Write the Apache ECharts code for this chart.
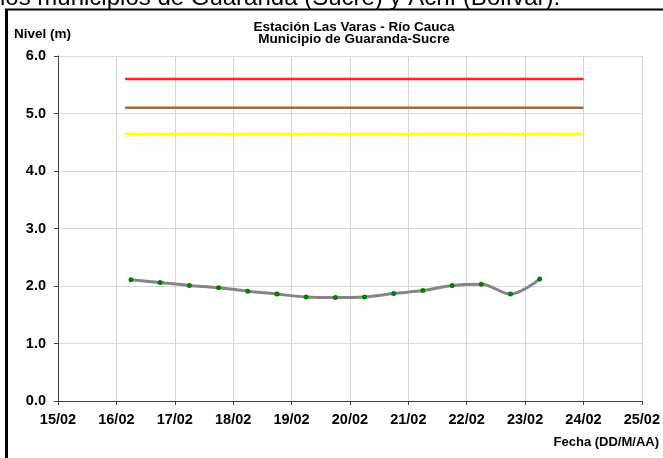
<!DOCTYPE html>
<html>
<head>
<meta charset="utf-8">
<script src="https://cdn.jsdelivr.net/npm/echarts@6/dist/echarts.min.js"></script>
<style>html,body{margin:0;padding:0;background:#fff}#c{width:663px;height:458px}</style>
</head>
<body>
<div id="c"></div>
<script>
// Data (x in days of February; 16.25 = 16/02 06:00)
const obsDays = [16.25, 16.75, 17.25, 17.75, 18.25, 18.75, 19.25, 19.75, 20.25, 20.75, 21.25, 21.75, 22.25, 22.75, 23.25];
const obsLevels = [2.11, 2.06, 2.01, 1.97, 1.91, 1.86, 1.81, 1.80, 1.81, 1.87, 1.92, 2.01, 2.03, 1.86, 2.12];
const thresholdDays = [16.15, 24.0];
const redLevel = 5.6;
const brownLevel = 5.1;
const yellowLevel = 4.65;
const xTicks = ['15/02','16/02','17/02','18/02','19/02','20/02','21/02','22/02','23/02','24/02','25/02'];
const titleLines = ['Estación Las Varas - Río Cauca', 'Municipio de Guaranda-Sucre'];
const headerText = 'los municipios de Guaranda (Sucre) y Achí (Bolívar).';

const font = 'Liberation Sans, Arial, sans-serif';
const chart = echarts.init(document.getElementById('c'), null, {renderer: 'canvas'});
const thr = (lvl) => thresholdDays.map(d => [d, lvl]);

chart.setOption({
  animation: false,
  backgroundColor: '#fff',
  grid: {left: 58, right: 21, top: 56, bottom: 57, containLabel: false},
  title: {
    text: titleLines.join('\n'),
    left: 349, top: 16, textAlign: 'center',
    textStyle: {fontFamily: font, fontWeight: 'bold', fontSize: 13.5, color: '#000', lineHeight: 12.5}
  },
  graphic: [
    {type: 'text', left: 0, top: -14, style: {text: headerText, fontFamily: font, fontSize: 24, fill: '#000'}},
    {type: 'line', shape: {x1: 5, y1: 9.5, x2: 663, y2: 9.5}, style: {stroke: '#000', lineWidth: 2}},
    {type: 'line', shape: {x1: 6.5, y1: 9, x2: 6.5, y2: 458}, style: {stroke: '#000', lineWidth: 3}},
    {type: 'text', left: 14, top: 27, style: {text: 'Nivel (m)', fontFamily: font, fontWeight: 'bold', fontSize: 13.5, fill: '#000'}},
    {type: 'text', right: 4, top: 436, style: {text: 'Fecha (DD/M/AA)', fontFamily: font, fontWeight: 'bold', fontSize: 13, fill: '#000'}}
  ],
  xAxis: {
    type: 'value', min: 15, max: 25, interval: 1,
    axisLine: {show: true, onZero: false, lineStyle: {color: '#404040', width: 1}},
    axisTick: {show: true, length: 4, lineStyle: {color: '#404040'}},
    axisLabel: {
      formatter: (v) => xTicks[Math.round(v) - 15],
      fontFamily: font, fontWeight: 'bold', fontSize: 14.5, color: '#000', margin: 11
    },
    splitLine: {show: true, lineStyle: {color: '#d4d4d4', width: 1}}
  },
  yAxis: {
    type: 'value', min: 0, max: 6, interval: 1,
    axisLine: {show: true, lineStyle: {color: '#404040', width: 1}},
    axisTick: {show: true, length: 4, lineStyle: {color: '#404040'}},
    axisLabel: {
      formatter: (v) => v.toFixed(1),
      fontFamily: font, fontWeight: 'bold', fontSize: 14.5, color: '#000', margin: 12
    },
    splitLine: {show: true, lineStyle: {color: '#d9d9d9', width: 1}}
  },
  series: [
    {type: 'line', data: thr(redLevel), symbol: 'none', lineStyle: {color: '#ff2020', width: 2.5}, silent: true},
    {type: 'line', data: thr(brownLevel), symbol: 'none', lineStyle: {color: '#a06a3c', width: 2.5}, silent: true},
    {type: 'line', data: thr(yellowLevel), symbol: 'none', lineStyle: {color: '#ffff20', width: 2.5}, silent: true},
    {
      type: 'line', data: obsDays.map((d, i) => [d, obsLevels[i]]),
      smooth: 0.35, symbol: 'circle', symbolSize: 5,
      lineStyle: {color: '#858585', width: 3},
      itemStyle: {color: '#008000'}
    }
  ]
});
</script>
</body>
</html>
